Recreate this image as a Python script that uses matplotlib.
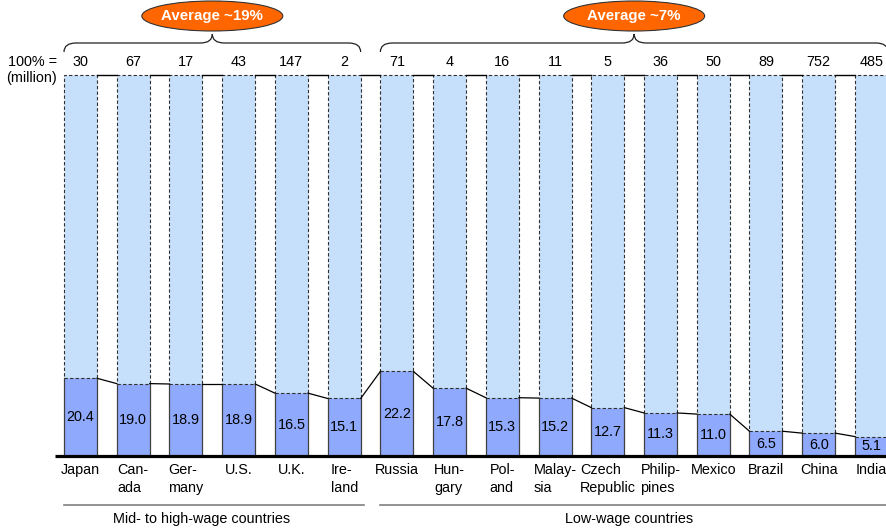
import matplotlib.pyplot as plt
from matplotlib.path import Path
from matplotlib.patches import PathPatch, Ellipse

plt.rcParams["font.family"] = ["Liberation Sans", "DejaVu Sans"]
plt.rcParams["font.size"] = 10.4

countries = ["Japan", "Can-\nada", "Ger-\nmany", "U.S.", "U.K.", "Ire-\nland",
             "Russia", "Hun-\ngary", "Pol-\nand", "Malay-\nsia", "Czech\nRepublic",
             "Philip-\npines", "Mexico", "Brazil", "China", "India"]
share = [20.4, 19.0, 18.9, 18.9, 16.5, 15.1, 22.2, 17.8, 15.3, 15.2, 12.7,
         11.3, 11.0, 6.5, 6.0, 5.1]
totals = ["30", "67", "17", "43", "147", "2", "71", "4", "16", "11", "5",
          "36", "50", "89", "752", "485"]
group_names = ["Mid- to high-wage countries", "Low-wage countries"]
group_avg = ["Average ~19%", "Average ~7%"]
group_first = [0, 6]
group_last = [5, 15]

light = "#C6DFFA"
dark = "#8FAAFC"
orange = "#FF6600"

# canvas: 887x531 px, one bar pitch = 52.73 px, 100% = 381 px
W, H = 887, 531
pitch = 52.73
x0px = 64
base_px = 456
full_px = 381
bw = 33 / pitch

def yp(py):
    # pixel row (from top) -> percent units
    return (base_px - py) / full_px * 100

def xp(px):
    return (px - x0px) / pitch

fig = plt.figure(figsize=(W / 100, H / 100), dpi=100)
ax = fig.add_axes([0, 0, 1, 1])
ax.set_xlim(xp(0), xp(W))
ax.set_ylim(yp(H), yp(0))
ax.axis("off")

n = len(share)
xs = list(range(n))

# dark part (share) and light remainder up to 100%
ax.bar(xs, share, width=bw, align="edge", color=dark, edgecolor="none", zorder=2)
ax.bar(xs, [100 - v for v in share], bottom=share, width=bw, align="edge",
       color=light, edgecolor="#303030", linewidth=0.8,
       linestyle=(0, (3, 2)), zorder=3)
for x, v in zip(xs, share):
    ax.plot([x, x], [0, v], color="#404040", lw=0.9, zorder=4)
    ax.plot([x + bw, x + bw], [0, v], color="#404040", lw=0.9, zorder=4)
    ax.text(x + bw / 2, v / 2, f"{v:.1f}", ha="center", va="center", zorder=5)

# connectors between neighbouring bars
for i in range(n - 1):
    ax.plot([i + bw, i + 1], [100, 100], color="black", lw=1.0, zorder=4)
    ax.plot([i + bw, i + 1], [share[i], share[i + 1]], color="black", lw=0.9, zorder=4)

# baseline
ax.plot([xp(55), xp(W)], [0, 0], color="black", lw=2.3, solid_capstyle="butt", zorder=6)

# totals row
ax.text(xp(57), yp(62), "100% =", ha="right", va="center")
ax.text(xp(57), yp(78), "(million)", ha="right", va="center")
for x, t in zip(xs, totals):
    ax.text(x + bw / 2, yp(62), t, ha="center", va="center")

# country labels
for x, c in zip(xs, countries):
    ax.text(x + bw / 2, yp(463), c, ha="center", va="top", multialignment="left",
            linespacing=1.4)

def brace(xa, xb, y_end, y_flat, y_tip, d):
    xm = (xa + xb) / 2
    verts = [(xa, y_end), (xa, y_flat), (xa + d, y_flat),
             (xm - d, y_flat), (xm, y_flat), (xm, y_tip),
             (xm, y_flat), (xm + d, y_flat),
             (xb - d, y_flat), (xb, y_flat), (xb, y_end)]
    codes = [Path.MOVETO, Path.CURVE3, Path.CURVE3,
             Path.LINETO, Path.CURVE3, Path.CURVE3,
             Path.CURVE3, Path.CURVE3,
             Path.LINETO, Path.CURVE3, Path.CURVE3]
    return PathPatch(Path(verts, codes), facecolor="none", edgecolor="#202020", lw=0.9)

label_cx = [202, 629]
for g in range(2):
    a, b = group_first[g], group_last[g] + bw
    mid = (a + b) / 2
    ax.add_patch(brace(a, b, yp(52), yp(43), yp(34), 12 / pitch))
    ax.add_patch(Ellipse((mid, yp(16)), 141 / pitch, 30 / full_px * 100,
                         facecolor=orange, edgecolor="#333333", lw=0.8, zorder=5))
    ax.text(mid, yp(16), group_avg[g], ha="center", va="center", color="white",
            fontweight="bold", fontsize=10.8, zorder=6)
    right = b + 3 / pitch if g == 0 else xp(W)
    ax.plot([a, right], [yp(505), yp(505)], color="#808080", lw=1.2)
    ax.text(xp(label_cx[g]), yp(519), group_names[g], ha="center", va="center")

fig.savefig("out.png", dpi=100)
